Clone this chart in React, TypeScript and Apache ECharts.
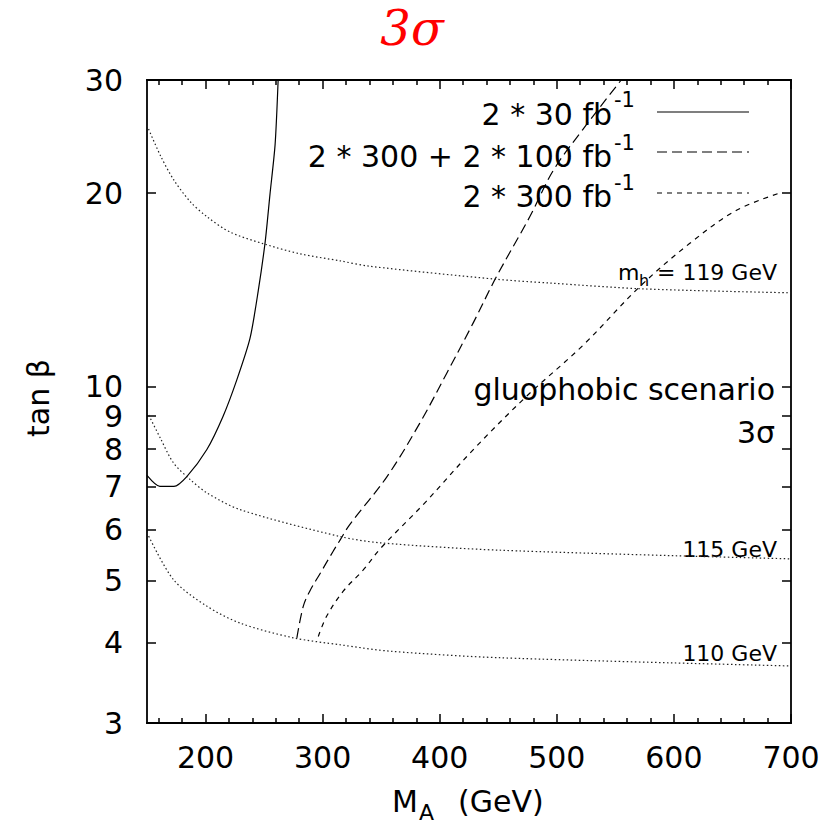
import React, { useEffect, useRef } from 'react';
import * as echarts from 'echarts';

// Axis ranges and ticks
const xRange = [150, 700];
const yRange = [3, 30];
const xMajorTicks = [200, 300, 400, 500, 600, 700];
const xMinorTicks = [160, 180, 220, 240, 260, 280, 320, 340, 360, 380, 420, 440, 460, 480, 520, 540, 560, 580, 620, 640, 660, 680];
const yTicks = [3, 4, 5, 6, 7, 8, 9, 10, 20, 30];

// Discovery contours (M_A [GeV], tan beta)
const lumi2x30 = [
  [150, 7.28], [161, 7.0], [173, 7.0], [184, 7.25], [201, 7.98], [215, 9.0], [226.7, 10.25],
  [238, 11.9], [245, 14.1], [251, 16.85], [255, 19.9], [259.4, 23.8], [262, 30],
];
const lumi2x300plus2x100 = [
  [278, 4.07], [283.5, 4.56], [289, 4.81], [298, 5.13], [309, 5.55], [315, 5.78], [323, 6.1],
  [355, 7.25], [383, 8.78], [406, 10.5], [428.5, 12.56], [448.5, 14.84], [477, 18.4],
  [497, 21.7], [522, 25.1], [555, 30],
];
const lumi2x300 = [
  [296.3, 4.09], [303.5, 4.4], [317.6, 4.81], [334.7, 5.19], [350, 5.62], [387.3, 6.6],
  [428.5, 7.98], [474, 9.66], [522.3, 11.6], [570.6, 14.3], [613.3, 16.7], [653.1, 18.8], [690, 20.0],
];
// m_h contours
const mh119 = [
  [150, 25.5], [161.4, 22.9], [172.7, 21.0], [187, 19.4], [201, 18.4], [221, 17.4], [249, 16.7],
  [280.6, 16.1], [314.8, 15.7], [340, 15.4], [448, 14.7], [494, 14.5], [573.5, 14.2], [700, 14.0],
];
const mh115 = [
  [150, 9.15], [161.4, 8.32], [172.7, 7.61], [187, 7.17], [201.2, 6.84], [229.6, 6.44],
  [314.8, 5.85], [349, 5.72], [451, 5.57], [700, 5.4],
];
const mh110 = [
  [150, 5.93], [172.7, 5.01], [201, 4.56], [229.6, 4.29], [275, 4.07], [314.8, 3.97],
  [357.5, 3.88], [451, 3.79], [700, 3.68],
];

const legendLabels = ['2 * 30 fb', '2 * 300 + 2 * 100 fb', '2 * 300 fb'];

const FONT = 'DejaVu Sans';

export default function App() {
  const ref = useRef<HTMLDivElement>(null);
  useEffect(() => {
    document.body.style.margin = '0';
    const chart = echarts.init(ref.current!, null, { renderer: 'svg' });
    const black = '#000';
    const xAxisBase = (position: string, ticks: number[], len: number, labels: boolean) => ({
      type: 'value',
      min: xRange[0],
      max: xRange[1],
      position,
      axisLine: { show: true, onZero: false, lineStyle: { color: black, width: 1.8 } },
      axisTick: { show: true, inside: true, length: len, customValues: ticks, lineStyle: { color: black, width: 1.5 } },
      axisLabel: labels
        ? { show: true, customValues: ticks, fontSize: 30, fontFamily: FONT, color: black, margin: 19 }
        : { show: false },
      splitLine: { show: false },
    });
    const yAxisBase = (position: string, labels: boolean) => ({
      type: 'log',
      logBase: 10,
      min: yRange[0],
      max: yRange[1],
      position,
      axisLine: { show: true, onZero: false, lineStyle: { color: black, width: 1.8 } },
      axisTick: { show: true, inside: true, length: 9, customValues: yTicks, lineStyle: { color: black, width: 1.5 } },
      axisLabel: labels
        ? {
            show: true, customValues: yTicks, fontSize: 30, lineHeight: 24, fontFamily: FONT, color: black, margin: 24,
            formatter: (v: number) => String(Math.round(v)),
          }
        : { show: false },
      splitLine: { show: false },
      minorTick: { show: false },
    });
    const lineSeries = (name: string, data: number[][], type: any, color: string, smooth: number) => ({
      name,
      type: 'line',
      data,
      showSymbol: false,
      symbol: 'none',
      smooth,
      lineStyle: { color, width: 1.2, type },
      silent: true,
    });
    const legendY = [112, 152, 193];
    const legendTextY = [114, 156, 196];
    const supY = [100, 143, 183];
    const dashes: any[] = ['solid', [10, 5], [5, 5]];
    const graphics: any[] = [];
    legendLabels.forEach((t, i) => {
      graphics.push({
        type: 'text', x: 612, y: legendTextY[i],
        style: { text: t, font: `30px "${FONT}"`, fill: black, align: 'right', verticalAlign: 'middle' },
      });
      graphics.push({
        type: 'text', x: 614, y: supY[i],
        style: { text: '-1', font: `21px "${FONT}"`, fill: black, align: 'left', verticalAlign: 'middle' },
      });
      graphics.push({
        type: 'line', shape: { x1: 657, y1: legendY[i], x2: 749, y2: legendY[i] },
        style: { stroke: black, lineWidth: 1.2, lineDash: dashes[i] === 'solid' ? null : dashes[i] },
      });
    });
    const txt = (text: string, x: number, y: number, size: number, align: string, extra: any = {}) => ({
      type: 'text', x, y,
      style: { text, font: `${size}px "${FONT}"`, fill: black, align, verticalAlign: 'middle', ...extra },
    });
    graphics.push(txt('gluophobic scenario', 775, 389, 30, 'right'));
    graphics.push(txt('3σ', 775, 432, 30, 'right'));
    graphics.push(txt('m', 618, 272, 22, 'left'));
    graphics.push(txt('h', 639, 280, 16, 'left'));
    graphics.push(txt('= 119 GeV', 777, 272, 22, 'right'));
    graphics.push(txt('115 GeV', 777, 549, 22, 'right'));
    graphics.push(txt('110 GeV', 777, 653, 22, 'right'));
    // axis names
    graphics.push(txt('M', 392, 801, 30, 'left'));
    graphics.push(txt('A', 419, 812, 22, 'left'));
    graphics.push(txt('(GeV)', 458, 801, 30, 'left'));
    graphics.push({
      type: 'text', x: 38, y: 398, rotation: Math.PI / 2,
      style: { text: 'tan β', font: `30px "${FONT}"`, fill: black, align: 'center', verticalAlign: 'middle' },
    });
    // title
    graphics.push({
      type: 'text', x: 412, y: 28,
      style: { text: '3σ', font: `italic 48px "DejaVu Serif"`, fill: '#ff0000', align: 'center', verticalAlign: 'middle' },
    });

    chart.setOption({
      animation: false,
      backgroundColor: '#fff',
      grid: { left: 147, right: 35, top: 80, bottom: 104, containLabel: false, show: false },
      xAxis: [
        xAxisBase('bottom', xMajorTicks, 9, true),
        xAxisBase('top', xMajorTicks, 9, false),
        xAxisBase('bottom', xMinorTicks, 5, false),
        xAxisBase('top', xMinorTicks, 5, false),
      ],
      yAxis: [yAxisBase('left', true), yAxisBase('right', false)],
      series: [
        lineSeries('2 * 30 fb-1', lumi2x30, 'solid', black, 0.25),
        lineSeries('2 * 300 + 2 * 100 fb-1', lumi2x300plus2x100, [10, 5], black, 0.35),
        lineSeries('2 * 300 fb-1', lumi2x300, [5, 5], black, 0.35),
        lineSeries('m_h = 119 GeV', mh119, [1.5, 2.5], '#222', 0.3),
        lineSeries('m_h = 115 GeV', mh115, [1.5, 2.5], '#222', 0.3),
        lineSeries('m_h = 110 GeV', mh110, [1.5, 2.5], '#222', 0.3),
      ],
      graphic: graphics,
    });
    return () => chart.dispose();
  }, []);
  return <div ref={ref} style={{ width: 826, height: 827 }} />;
}
